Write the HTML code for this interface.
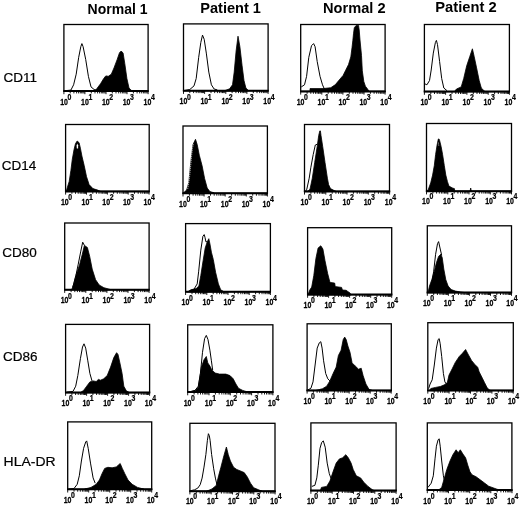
<!DOCTYPE html>
<html><head><meta charset="utf-8"><title>Figure</title>
<style>
html,body{margin:0;padding:0;background:#fff;}
body{width:520px;height:506px;overflow:hidden;position:relative;font-family:"Liberation Sans",sans-serif;color:#000;}
svg{position:absolute;left:0;top:0;}
svg text{font-family:"Liberation Sans",sans-serif;fill:#000;}
.b{fill:none;stroke:#000;stroke-width:1.3;}
.k{fill:#000;stroke:#000;stroke-width:0.8;stroke-linejoin:round;}
.w{fill:none;stroke:#000;stroke-width:1;stroke-linejoin:round;}
.iw{fill:none;stroke:#fff;stroke-width:0.6;stroke-dasharray:1.2 0.8;}
.ax{stroke:#000;stroke-width:2;}
.t{stroke:#000;stroke-width:0.9;}
.lb{font-weight:bold;stroke:#000;stroke-width:0.25;}
</style></head><body>

<svg width="520" height="506" viewBox="0 0 520 506">
<text transform="translate(87.6 13.7) scale(1.000 1)" font-size="14" font-weight="bold">Normal 1</text>
<text transform="translate(200.3 12.9) scale(1.040 1)" font-size="14" font-weight="bold">Patient 1</text>
<text transform="translate(323.0 13.2) scale(1.045 1)" font-size="14" font-weight="bold">Normal 2</text>
<text transform="translate(435.3 11.8) scale(1.052 1)" font-size="14" font-weight="bold">Patient 2</text>
<text transform="translate(3.4 82.0) scale(1.000 1)" font-size="13.5" stroke="#000" stroke-width="0.2">CD11</text>
<text transform="translate(1.7 169.9) scale(1.000 1)" font-size="13.5" stroke="#000" stroke-width="0.2">CD14</text>
<text transform="translate(2.2 256.6) scale(1.000 1)" font-size="13.5" stroke="#000" stroke-width="0.2">CD80</text>
<text transform="translate(3.1 360.8) scale(1.000 1)" font-size="13.5" stroke="#000" stroke-width="0.2">CD86</text>
<text transform="translate(3.6 465.9) scale(1.035 1)" font-size="13.5" stroke="#000" stroke-width="0.2">HLA-DR</text>
<g>
<polygon class="k" points="95.2,91.0 97.3,88.0 100.5,83.8 103.7,78.5 105.8,75.9 108.3,76.3 111.3,74.2 114.0,67.9 117.2,59.4 119.5,52.7 121.2,51.0 123.1,53.1 124.8,63.7 126.9,78.5 129.0,88.0 131.2,90.3 133.3,91.0"/>
<polyline class="w" points="65.2,90.7 70.9,90.1 73.6,84.8 76.2,74.2 78.7,57.3 80.8,46.7 81.9,43.6 83.1,46.7 85.7,59.4 88.4,76.3 91.0,86.9 94.1,89.5 97.3,90.1"/>
<rect class="b" x="63.9" y="24.5" width="84.2" height="66.5"/>
<line class="ax" x1="63.3" y1="91.0" x2="148.7" y2="91.0"/>
<path class="t" d="M63.9 91.0v3.2M70.2 91.0v2.4M73.9 91.0v2.4M76.6 91.0v2.4M78.6 91.0v2.4M80.3 91.0v2.4M81.7 91.0v2.4M82.9 91.0v2.4M84.0 91.0v2.4M84.9 91.0v3.2M91.3 91.0v2.4M95.0 91.0v2.4M97.6 91.0v2.4M99.6 91.0v2.4M101.3 91.0v2.4M102.7 91.0v2.4M103.9 91.0v2.4M105.0 91.0v2.4M106.0 91.0v3.2M112.3 91.0v2.4M116.0 91.0v2.4M118.7 91.0v2.4M120.7 91.0v2.4M122.4 91.0v2.4M123.8 91.0v2.4M125.0 91.0v2.4M126.1 91.0v2.4M127.0 91.0v3.2M133.4 91.0v2.4M137.1 91.0v2.4M139.7 91.0v2.4M141.7 91.0v2.4M143.4 91.0v2.4M144.8 91.0v2.4M146.0 91.0v2.4M147.1 91.0v2.4M148.1 91.0v3.2"/>
<text transform="translate(60.2 104.5) scale(0.75 1)" font-size="9.3" class="lb">10</text>
<text transform="translate(67.6 99.8) scale(0.74 1)" font-size="9.4" class="lb">0</text>
<text transform="translate(81.0 104.5) scale(0.75 1)" font-size="9.3" class="lb">10</text>
<text transform="translate(88.4 99.8) scale(0.74 1)" font-size="9.4" class="lb">1</text>
<text transform="translate(101.9 104.5) scale(0.75 1)" font-size="9.3" class="lb">10</text>
<text transform="translate(109.3 99.8) scale(0.74 1)" font-size="9.4" class="lb">2</text>
<text transform="translate(122.7 104.5) scale(0.75 1)" font-size="9.3" class="lb">10</text>
<text transform="translate(130.1 99.8) scale(0.74 1)" font-size="9.4" class="lb">3</text>
<text transform="translate(143.6 104.5) scale(0.75 1)" font-size="9.3" class="lb">10</text>
<text transform="translate(151.0 99.8) scale(0.74 1)" font-size="9.4" class="lb">4</text>
</g>
<g>
<polygon class="k" points="224.7,90.7 229.6,88.8 232.5,84.8 234.2,72.1 236.1,51.0 238.0,36.2 239.9,46.7 242.1,65.8 244.0,80.6 245.9,88.0 248.6,90.7"/>
<polyline class="w" points="184.5,90.5 189.8,89.5 194.0,85.9 196.2,78.5 198.7,57.3 200.8,42.5 202.5,35.1 204.2,39.3 206.3,53.1 208.8,72.1 211.4,84.8 214.1,89.0 217.3,89.9"/>
<rect class="b" x="183.5" y="23.9" width="84.6" height="66.8"/>
<line class="ax" x1="182.9" y1="90.7" x2="268.7" y2="90.7"/>
<path class="t" d="M183.5 90.7v3.2M189.8 90.7v2.4M193.6 90.7v2.4M196.2 90.7v2.4M198.2 90.7v2.4M199.9 90.7v2.4M201.3 90.7v2.4M202.6 90.7v2.4M203.6 90.7v2.4M204.6 90.7v3.2M211.0 90.7v2.4M214.7 90.7v2.4M217.4 90.7v2.4M219.4 90.7v2.4M221.1 90.7v2.4M222.5 90.7v2.4M223.7 90.7v2.4M224.8 90.7v2.4M225.8 90.7v3.2M232.1 90.7v2.4M235.9 90.7v2.4M238.5 90.7v2.4M240.6 90.7v2.4M242.2 90.7v2.4M243.6 90.7v2.4M244.9 90.7v2.4M246.0 90.7v2.4M246.9 90.7v3.2M253.3 90.7v2.4M257.0 90.7v2.4M259.7 90.7v2.4M261.7 90.7v2.4M263.4 90.7v2.4M264.8 90.7v2.4M266.0 90.7v2.4M267.1 90.7v2.4M268.1 90.7v3.2"/>
<text transform="translate(179.5 104.2) scale(0.75 1)" font-size="9.3" class="lb">10</text>
<text transform="translate(186.9 99.5) scale(0.74 1)" font-size="9.4" class="lb">0</text>
<text transform="translate(200.4 104.2) scale(0.75 1)" font-size="9.3" class="lb">10</text>
<text transform="translate(207.8 99.5) scale(0.74 1)" font-size="9.4" class="lb">1</text>
<text transform="translate(221.4 104.2) scale(0.75 1)" font-size="9.3" class="lb">10</text>
<text transform="translate(228.8 99.5) scale(0.74 1)" font-size="9.4" class="lb">2</text>
<text transform="translate(242.3 104.2) scale(0.75 1)" font-size="9.3" class="lb">10</text>
<text transform="translate(249.7 99.5) scale(0.74 1)" font-size="9.4" class="lb">3</text>
<text transform="translate(263.3 104.2) scale(0.75 1)" font-size="9.3" class="lb">10</text>
<text transform="translate(270.7 99.5) scale(0.74 1)" font-size="9.4" class="lb">4</text>
</g>
<g>
<polygon class="k" points="310.0,91.5 310.0,88.6 323.1,88.6 330.8,87.7 335.4,84.6 339.2,80.0 343.1,75.4 345.4,70.8 348.5,64.6 350.8,56.9 352.0,47.7 352.8,40.8 353.5,33.8 354.3,27.7 356.2,25.4 358.5,25.4 359.2,30.0 360.0,40.0 361.5,55.4 362.3,70.8 363.8,81.5 365.4,86.2 367.7,89.2 369.2,91.5"/>
<polyline class="w" points="301.3,86.9 304.5,84.8 306.6,76.3 308.8,57.3 311.5,45.7 313.6,43.6 315.1,46.7 317.2,61.5 320.0,76.3 322.5,84.8 324.6,89.5"/>
<rect class="b" x="300.7" y="24.5" width="84.4" height="66.8"/>
<line class="ax" x1="300.1" y1="91.4" x2="385.7" y2="91.4"/>
<path class="t" d="M300.7 91.4v3.2M307.1 91.4v2.4M310.8 91.4v2.4M313.4 91.4v2.4M315.5 91.4v2.4M317.1 91.4v2.4M318.5 91.4v2.4M319.8 91.4v2.4M320.8 91.4v2.4M321.8 91.4v3.2M328.2 91.4v2.4M331.9 91.4v2.4M334.5 91.4v2.4M336.6 91.4v2.4M338.2 91.4v2.4M339.6 91.4v2.4M340.9 91.4v2.4M341.9 91.4v2.4M342.9 91.4v3.2M349.3 91.4v2.4M353.0 91.4v2.4M355.6 91.4v2.4M357.7 91.4v2.4M359.3 91.4v2.4M360.7 91.4v2.4M362.0 91.4v2.4M363.0 91.4v2.4M364.0 91.4v3.2M370.4 91.4v2.4M374.1 91.4v2.4M376.7 91.4v2.4M378.8 91.4v2.4M380.4 91.4v2.4M381.8 91.4v2.4M383.1 91.4v2.4M384.1 91.4v2.4M385.1 91.4v3.2"/>
<text transform="translate(296.7 104.9) scale(0.75 1)" font-size="9.3" class="lb">10</text>
<text transform="translate(304.1 100.2) scale(0.74 1)" font-size="9.4" class="lb">0</text>
<text transform="translate(317.6 104.9) scale(0.75 1)" font-size="9.3" class="lb">10</text>
<text transform="translate(325.0 100.2) scale(0.74 1)" font-size="9.4" class="lb">1</text>
<text transform="translate(338.5 104.9) scale(0.75 1)" font-size="9.3" class="lb">10</text>
<text transform="translate(345.9 100.2) scale(0.74 1)" font-size="9.4" class="lb">2</text>
<text transform="translate(359.4 104.9) scale(0.75 1)" font-size="9.3" class="lb">10</text>
<text transform="translate(366.8 100.2) scale(0.74 1)" font-size="9.4" class="lb">3</text>
<text transform="translate(380.3 104.9) scale(0.75 1)" font-size="9.3" class="lb">10</text>
<text transform="translate(387.7 100.2) scale(0.74 1)" font-size="9.4" class="lb">4</text>
</g>
<g>
<polygon class="k" points="454.4,91.6 456.5,89.0 461.2,86.9 463.7,78.5 466.7,65.8 469.9,56.2 472.4,48.8 474.1,56.2 476.6,67.9 479.2,80.6 481.3,88.0 484.0,90.7 485.1,91.6"/>
<polyline class="w" points="424.8,83.8 426.9,84.8 429.5,80.6 431.2,70.0 433.3,53.1 435.4,42.5 436.4,40.4 437.5,44.6 439.6,61.5 441.7,78.5 443.8,88.0 447.0,90.7"/>
<rect class="b" x="424.4" y="24.5" width="85.0" height="67.1"/>
<line class="ax" x1="423.8" y1="91.6" x2="510.0" y2="91.6"/>
<path class="t" d="M424.4 91.6v3.2M430.8 91.6v2.4M434.5 91.6v2.4M437.2 91.6v2.4M439.2 91.6v2.4M440.9 91.6v2.4M442.4 91.6v2.4M443.6 91.6v2.4M444.7 91.6v2.4M445.6 91.6v3.2M452.0 91.6v2.4M455.8 91.6v2.4M458.4 91.6v2.4M460.5 91.6v2.4M462.2 91.6v2.4M463.6 91.6v2.4M464.8 91.6v2.4M465.9 91.6v2.4M466.9 91.6v3.2M473.3 91.6v2.4M477.0 91.6v2.4M479.7 91.6v2.4M481.8 91.6v2.4M483.4 91.6v2.4M484.9 91.6v2.4M486.1 91.6v2.4M487.2 91.6v2.4M488.2 91.6v3.2M494.6 91.6v2.4M498.3 91.6v2.4M501.0 91.6v2.4M503.0 91.6v2.4M504.7 91.6v2.4M506.1 91.6v2.4M507.4 91.6v2.4M508.5 91.6v2.4M509.4 91.6v3.2"/>
<text transform="translate(420.4 105.1) scale(0.75 1)" font-size="9.3" class="lb">10</text>
<text transform="translate(427.8 100.4) scale(0.74 1)" font-size="9.4" class="lb">0</text>
<text transform="translate(441.4 105.1) scale(0.75 1)" font-size="9.3" class="lb">10</text>
<text transform="translate(448.8 100.4) scale(0.74 1)" font-size="9.4" class="lb">1</text>
<text transform="translate(462.5 105.1) scale(0.75 1)" font-size="9.3" class="lb">10</text>
<text transform="translate(469.9 100.4) scale(0.74 1)" font-size="9.4" class="lb">2</text>
<text transform="translate(483.6 105.1) scale(0.75 1)" font-size="9.3" class="lb">10</text>
<text transform="translate(491.0 100.4) scale(0.74 1)" font-size="9.4" class="lb">3</text>
<text transform="translate(504.6 105.1) scale(0.75 1)" font-size="9.3" class="lb">10</text>
<text transform="translate(512.0 100.4) scale(0.74 1)" font-size="9.4" class="lb">4</text>
</g>
<g>
<polygon class="k" points="66.0,191.4 66.8,189.2 69.2,181.4 70.9,170.4 72.3,159.2 74.0,149.7 75.5,143.6 77.2,141.0 79.1,142.7 80.4,148.2 81.9,156.0 84.2,165.6 86.5,176.6 89.1,184.6 92.9,188.6 97.7,190.1 100.5,191.4"/>
<polygon fill="#fff" points="76.6,145.5 77.2,143.6 78.1,145.2 78.1,148.4 76.8,148.4"/>
<rect class="b" x="65.6" y="124.5" width="83.6" height="66.8"/>
<line class="ax" x1="65.0" y1="191.4" x2="149.7" y2="191.4"/>
<path class="t" d="M65.6 191.4v3.2M71.9 191.4v2.4M75.5 191.4v2.4M78.2 191.4v2.4M80.2 191.4v2.4M81.8 191.4v2.4M83.2 191.4v2.4M84.4 191.4v2.4M85.5 191.4v2.4M86.5 191.4v3.2M92.8 191.4v2.4M96.4 191.4v2.4M99.0 191.4v2.4M101.1 191.4v2.4M102.7 191.4v2.4M104.1 191.4v2.4M105.3 191.4v2.4M106.4 191.4v2.4M107.4 191.4v3.2M113.6 191.4v2.4M117.3 191.4v2.4M119.9 191.4v2.4M122.0 191.4v2.4M123.6 191.4v2.4M125.0 191.4v2.4M126.2 191.4v2.4M127.3 191.4v2.4M128.2 191.4v3.2M134.5 191.4v2.4M138.2 191.4v2.4M140.8 191.4v2.4M142.8 191.4v2.4M144.5 191.4v2.4M145.9 191.4v2.4M147.1 191.4v2.4M148.2 191.4v2.4M149.1 191.4v3.2"/>
<text transform="translate(60.9 204.9) scale(0.75 1)" font-size="9.3" class="lb">10</text>
<text transform="translate(68.3 200.2) scale(0.74 1)" font-size="9.4" class="lb">0</text>
<text transform="translate(81.6 204.9) scale(0.75 1)" font-size="9.3" class="lb">10</text>
<text transform="translate(89.0 200.2) scale(0.74 1)" font-size="9.4" class="lb">1</text>
<text transform="translate(102.3 204.9) scale(0.75 1)" font-size="9.3" class="lb">10</text>
<text transform="translate(109.7 200.2) scale(0.74 1)" font-size="9.4" class="lb">2</text>
<text transform="translate(122.9 204.9) scale(0.75 1)" font-size="9.3" class="lb">10</text>
<text transform="translate(130.3 200.2) scale(0.74 1)" font-size="9.4" class="lb">3</text>
<text transform="translate(143.6 204.9) scale(0.75 1)" font-size="9.3" class="lb">10</text>
<text transform="translate(151.0 200.2) scale(0.74 1)" font-size="9.4" class="lb">4</text>
</g>
<g>
<polygon class="k" points="183.5,192.8 186.6,190.1 188.8,182.7 190.9,161.5 193.0,144.6 195.5,139.3 197.2,144.6 199.3,155.2 202.1,165.8 204.6,178.5 207.2,188.0 209.9,191.6 214.1,192.8"/>
<polyline class="iw" points="187.7,189.0 189.4,178.5 190.9,163.7 192.3,148.8 193.6,143.6"/>
<rect class="b" x="183.0" y="126.0" width="84.4" height="67.3"/>
<line class="ax" x1="182.4" y1="193.3" x2="268.0" y2="193.3"/>
<path class="t" d="M183.0 193.3v3.2M189.4 193.3v2.4M193.1 193.3v2.4M195.7 193.3v2.4M197.8 193.3v2.4M199.5 193.3v2.4M200.9 193.3v2.4M202.1 193.3v2.4M203.2 193.3v2.4M204.1 193.3v3.2M210.5 193.3v2.4M214.2 193.3v2.4M216.8 193.3v2.4M218.9 193.3v2.4M220.6 193.3v2.4M222.0 193.3v2.4M223.2 193.3v2.4M224.3 193.3v2.4M225.2 193.3v3.2M231.6 193.3v2.4M235.3 193.3v2.4M237.9 193.3v2.4M240.0 193.3v2.4M241.7 193.3v2.4M243.1 193.3v2.4M244.3 193.3v2.4M245.4 193.3v2.4M246.3 193.3v3.2M252.7 193.3v2.4M256.4 193.3v2.4M259.0 193.3v2.4M261.1 193.3v2.4M262.8 193.3v2.4M264.2 193.3v2.4M265.4 193.3v2.4M266.5 193.3v2.4M267.4 193.3v3.2"/>
<text transform="translate(179.0 206.8) scale(0.75 1)" font-size="9.3" class="lb">10</text>
<text transform="translate(186.4 202.1) scale(0.74 1)" font-size="9.4" class="lb">0</text>
<text transform="translate(199.9 206.8) scale(0.75 1)" font-size="9.3" class="lb">10</text>
<text transform="translate(207.3 202.1) scale(0.74 1)" font-size="9.4" class="lb">1</text>
<text transform="translate(220.8 206.8) scale(0.75 1)" font-size="9.3" class="lb">10</text>
<text transform="translate(228.2 202.1) scale(0.74 1)" font-size="9.4" class="lb">2</text>
<text transform="translate(241.7 206.8) scale(0.75 1)" font-size="9.3" class="lb">10</text>
<text transform="translate(249.1 202.1) scale(0.74 1)" font-size="9.4" class="lb">3</text>
<text transform="translate(262.6 206.8) scale(0.75 1)" font-size="9.3" class="lb">10</text>
<text transform="translate(270.0 202.1) scale(0.74 1)" font-size="9.4" class="lb">4</text>
</g>
<g>
<polygon class="k" points="307.7,191.4 310.0,189.2 312.3,178.2 314.7,162.4 317.2,146.5 318.7,135.5 319.8,130.9 320.4,130.9 321.0,135.5 322.7,146.5 325.0,162.4 327.4,178.2 328.6,184.6 330.5,188.6 334.1,190.5 336.2,191.4"/>
<polyline class="w" points="305.6,191.4 306.8,189.2 309.2,178.2 310.9,167.2 313.2,154.6 315.3,145.0 317.2,144.2"/>
<rect class="b" x="304.5" y="124.5" width="85.0" height="66.8"/>
<line class="ax" x1="303.9" y1="191.4" x2="390.2" y2="191.4"/>
<path class="t" d="M304.5 191.4v3.2M310.9 191.4v2.4M314.7 191.4v2.4M317.3 191.4v2.4M319.4 191.4v2.4M321.1 191.4v2.4M322.5 191.4v2.4M323.7 191.4v2.4M324.8 191.4v2.4M325.8 191.4v3.2M332.2 191.4v2.4M335.9 191.4v2.4M338.6 191.4v2.4M340.6 191.4v2.4M342.3 191.4v2.4M343.7 191.4v2.4M345.0 191.4v2.4M346.1 191.4v2.4M347.0 191.4v3.2M353.4 191.4v2.4M357.2 191.4v2.4M359.8 191.4v2.4M361.9 191.4v2.4M363.6 191.4v2.4M365.0 191.4v2.4M366.2 191.4v2.4M367.3 191.4v2.4M368.3 191.4v3.2M374.7 191.4v2.4M378.4 191.4v2.4M381.1 191.4v2.4M383.2 191.4v2.4M384.8 191.4v2.4M386.3 191.4v2.4M387.5 191.4v2.4M388.6 191.4v2.4M389.6 191.4v3.2"/>
<text transform="translate(300.5 204.9) scale(0.75 1)" font-size="9.3" class="lb">10</text>
<text transform="translate(307.9 200.2) scale(0.74 1)" font-size="9.4" class="lb">0</text>
<text transform="translate(321.6 204.9) scale(0.75 1)" font-size="9.3" class="lb">10</text>
<text transform="translate(329.0 200.2) scale(0.74 1)" font-size="9.4" class="lb">1</text>
<text transform="translate(342.6 204.9) scale(0.75 1)" font-size="9.3" class="lb">10</text>
<text transform="translate(350.0 200.2) scale(0.74 1)" font-size="9.4" class="lb">2</text>
<text transform="translate(363.7 204.9) scale(0.75 1)" font-size="9.3" class="lb">10</text>
<text transform="translate(371.1 200.2) scale(0.74 1)" font-size="9.4" class="lb">3</text>
<text transform="translate(384.8 204.9) scale(0.75 1)" font-size="9.3" class="lb">10</text>
<text transform="translate(392.2 200.2) scale(0.74 1)" font-size="9.4" class="lb">4</text>
</g>
<g>
<polygon class="k" points="427.3,191.2 428.4,189.2 430.7,182.9 432.6,175.1 434.3,165.6 435.6,154.6 437.1,145.0 438.3,139.1 439.0,138.9 439.6,140.4 441.1,146.5 442.6,154.6 444.3,165.6 445.8,175.1 447.4,181.4 448.9,186.1 452.9,188.2 454.4,188.6 454.8,191.2"/>
<polygon class="k" points="470.1,191.2 470.7,188.0 471.3,191.2"/>
<polyline class="iw" points="438.3,142.5 438.8,145.9"/>
<rect class="b" x="426.5" y="123.5" width="85.0" height="67.7"/>
<line class="ax" x1="425.9" y1="191.2" x2="512.1" y2="191.2"/>
<path class="t" d="M426.5 191.2v3.2M432.9 191.2v2.4M436.6 191.2v2.4M439.3 191.2v2.4M441.4 191.2v2.4M443.0 191.2v2.4M444.5 191.2v2.4M445.7 191.2v2.4M446.8 191.2v2.4M447.8 191.2v3.2M454.2 191.2v2.4M457.9 191.2v2.4M460.6 191.2v2.4M462.6 191.2v2.4M464.3 191.2v2.4M465.7 191.2v2.4M467.0 191.2v2.4M468.0 191.2v2.4M469.0 191.2v3.2M475.4 191.2v2.4M479.2 191.2v2.4M481.8 191.2v2.4M483.9 191.2v2.4M485.6 191.2v2.4M487.0 191.2v2.4M488.2 191.2v2.4M489.3 191.2v2.4M490.3 191.2v3.2M496.7 191.2v2.4M500.4 191.2v2.4M503.1 191.2v2.4M505.1 191.2v2.4M506.8 191.2v2.4M508.2 191.2v2.4M509.5 191.2v2.4M510.6 191.2v2.4M511.5 191.2v3.2"/>
<text transform="translate(422.0 204.1) scale(0.75 1)" font-size="9.3" class="lb">10</text>
<text transform="translate(429.4 199.4) scale(0.74 1)" font-size="9.4" class="lb">0</text>
<text transform="translate(443.1 204.1) scale(0.75 1)" font-size="9.3" class="lb">10</text>
<text transform="translate(450.5 199.4) scale(0.74 1)" font-size="9.4" class="lb">1</text>
<text transform="translate(464.1 204.1) scale(0.75 1)" font-size="9.3" class="lb">10</text>
<text transform="translate(471.5 199.4) scale(0.74 1)" font-size="9.4" class="lb">2</text>
<text transform="translate(485.2 204.1) scale(0.75 1)" font-size="9.3" class="lb">10</text>
<text transform="translate(492.6 199.4) scale(0.74 1)" font-size="9.4" class="lb">3</text>
<text transform="translate(506.2 204.1) scale(0.75 1)" font-size="9.3" class="lb">10</text>
<text transform="translate(513.6 199.4) scale(0.74 1)" font-size="9.4" class="lb">4</text>
</g>
<g>
<polygon class="k" points="71.7,289.7 73.8,283.9 75.9,275.5 79.5,264.9 82.3,254.3 84.4,245.4 87.4,247.5 89.7,256.4 92.2,269.1 95.6,279.7 99.2,285.0 103.9,287.7 109.2,289.2 110.8,289.7"/>
<polyline class="w" points="72.8,287.1 75.9,275.5 78.1,264.9 80.8,251.1 82.7,242.2 84.4,245.4"/>
<rect class="b" x="64.7" y="223.0" width="84.4" height="66.7"/>
<line class="ax" x1="64.1" y1="289.7" x2="149.7" y2="289.7"/>
<path class="t" d="M64.7 289.7v3.2M71.1 289.7v2.4M74.8 289.7v2.4M77.4 289.7v2.4M79.5 289.7v2.4M81.2 289.7v2.4M82.6 289.7v2.4M83.8 289.7v2.4M84.9 289.7v2.4M85.8 289.7v3.2M92.2 289.7v2.4M95.9 289.7v2.4M98.5 289.7v2.4M100.6 289.7v2.4M102.3 289.7v2.4M103.7 289.7v2.4M104.9 289.7v2.4M106.0 289.7v2.4M106.9 289.7v3.2M113.3 289.7v2.4M117.0 289.7v2.4M119.6 289.7v2.4M121.7 289.7v2.4M123.4 289.7v2.4M124.8 289.7v2.4M126.0 289.7v2.4M127.1 289.7v2.4M128.0 289.7v3.2M134.4 289.7v2.4M138.1 289.7v2.4M140.7 289.7v2.4M142.8 289.7v2.4M144.5 289.7v2.4M145.9 289.7v2.4M147.1 289.7v2.4M148.2 289.7v2.4M149.1 289.7v3.2"/>
<text transform="translate(60.7 303.2) scale(0.75 1)" font-size="9.3" class="lb">10</text>
<text transform="translate(68.1 298.5) scale(0.74 1)" font-size="9.4" class="lb">0</text>
<text transform="translate(81.6 303.2) scale(0.75 1)" font-size="9.3" class="lb">10</text>
<text transform="translate(89.0 298.5) scale(0.74 1)" font-size="9.4" class="lb">1</text>
<text transform="translate(102.5 303.2) scale(0.75 1)" font-size="9.3" class="lb">10</text>
<text transform="translate(109.9 298.5) scale(0.74 1)" font-size="9.4" class="lb">2</text>
<text transform="translate(123.4 303.2) scale(0.75 1)" font-size="9.3" class="lb">10</text>
<text transform="translate(130.8 298.5) scale(0.74 1)" font-size="9.4" class="lb">3</text>
<text transform="translate(144.3 303.2) scale(0.75 1)" font-size="9.3" class="lb">10</text>
<text transform="translate(151.7 298.5) scale(0.74 1)" font-size="9.4" class="lb">4</text>
</g>
<g>
<polygon class="k" points="187.7,291.8 190.9,289.8 196.2,288.6 198.9,286.0 200.8,275.5 203.1,260.7 205.2,248.0 207.2,242.0 208.8,238.7 209.9,243.7 211.4,252.2 213.3,259.6 215.6,272.3 218.4,283.9 220.7,289.8 224.1,291.8"/>
<polyline class="w" points="187.7,291.8 194.0,289.2 197.2,283.9 198.7,271.2 200.8,250.1 202.9,236.3 204.2,234.6 205.0,237.4 205.9,241.8 207.2,241.6"/>
<rect class="b" x="185.6" y="223.6" width="84.8" height="68.1"/>
<line class="ax" x1="185.0" y1="291.8" x2="271.0" y2="291.8"/>
<path class="t" d="M185.6 291.8v3.2M192.0 291.8v2.4M195.7 291.8v2.4M198.3 291.8v2.4M200.4 291.8v2.4M202.1 291.8v2.4M203.5 291.8v2.4M204.7 291.8v2.4M205.8 291.8v2.4M206.8 291.8v3.2M213.2 291.8v2.4M216.9 291.8v2.4M219.6 291.8v2.4M221.6 291.8v2.4M223.3 291.8v2.4M224.7 291.8v2.4M225.9 291.8v2.4M227.0 291.8v2.4M228.0 291.8v3.2M234.4 291.8v2.4M238.1 291.8v2.4M240.8 291.8v2.4M242.8 291.8v2.4M244.5 291.8v2.4M245.9 291.8v2.4M247.1 291.8v2.4M248.2 291.8v2.4M249.2 291.8v3.2M255.6 291.8v2.4M259.3 291.8v2.4M262.0 291.8v2.4M264.0 291.8v2.4M265.7 291.8v2.4M267.1 291.8v2.4M268.3 291.8v2.4M269.4 291.8v2.4M270.4 291.8v3.2"/>
<text transform="translate(181.6 305.2) scale(0.75 1)" font-size="9.3" class="lb">10</text>
<text transform="translate(189.0 300.6) scale(0.74 1)" font-size="9.4" class="lb">0</text>
<text transform="translate(202.6 305.2) scale(0.75 1)" font-size="9.3" class="lb">10</text>
<text transform="translate(210.0 300.6) scale(0.74 1)" font-size="9.4" class="lb">1</text>
<text transform="translate(223.6 305.2) scale(0.75 1)" font-size="9.3" class="lb">10</text>
<text transform="translate(231.0 300.6) scale(0.74 1)" font-size="9.4" class="lb">2</text>
<text transform="translate(244.6 305.2) scale(0.75 1)" font-size="9.3" class="lb">10</text>
<text transform="translate(252.0 300.6) scale(0.74 1)" font-size="9.4" class="lb">3</text>
<text transform="translate(265.6 305.2) scale(0.75 1)" font-size="9.3" class="lb">10</text>
<text transform="translate(273.0 300.6) scale(0.74 1)" font-size="9.4" class="lb">4</text>
</g>
<g>
<polygon class="k" points="308.1,294.6 309.6,290.3 311.7,287.1 313.8,275.5 315.9,258.5 318.1,248.0 320.8,245.8 322.9,249.0 325.0,260.7 327.6,273.3 329.7,281.4 330.8,282.6 334.7,283.1 335.2,286.6 341.6,287.4 342.4,290.0 346.2,290.3 347.8,291.5 350.1,293.1 350.8,295.1"/>
<rect class="b" x="307.6" y="227.7" width="84.1" height="67.0"/>
<line class="ax" x1="307.0" y1="294.6" x2="392.3" y2="294.6"/>
<path class="t" d="M307.6 294.6v3.2M313.9 294.6v2.4M317.6 294.6v2.4M320.2 294.6v2.4M322.3 294.6v2.4M323.9 294.6v2.4M325.4 294.6v2.4M326.6 294.6v2.4M327.6 294.6v2.4M328.6 294.6v3.2M334.9 294.6v2.4M338.6 294.6v2.4M341.3 294.6v2.4M343.3 294.6v2.4M345.0 294.6v2.4M346.4 294.6v2.4M347.6 294.6v2.4M348.7 294.6v2.4M349.6 294.6v3.2M356.0 294.6v2.4M359.7 294.6v2.4M362.3 294.6v2.4M364.3 294.6v2.4M366.0 294.6v2.4M367.4 294.6v2.4M368.6 294.6v2.4M369.7 294.6v2.4M370.7 294.6v3.2M377.0 294.6v2.4M380.7 294.6v2.4M383.3 294.6v2.4M385.3 294.6v2.4M387.0 294.6v2.4M388.4 294.6v2.4M389.6 294.6v2.4M390.7 294.6v2.4M391.7 294.6v3.2"/>
<text transform="translate(303.6 308.1) scale(0.75 1)" font-size="9.3" class="lb">10</text>
<text transform="translate(311.0 303.4) scale(0.74 1)" font-size="9.4" class="lb">0</text>
<text transform="translate(324.4 308.1) scale(0.75 1)" font-size="9.3" class="lb">10</text>
<text transform="translate(331.8 303.4) scale(0.74 1)" font-size="9.4" class="lb">1</text>
<text transform="translate(345.2 308.1) scale(0.75 1)" font-size="9.3" class="lb">10</text>
<text transform="translate(352.6 303.4) scale(0.74 1)" font-size="9.4" class="lb">2</text>
<text transform="translate(366.1 308.1) scale(0.75 1)" font-size="9.3" class="lb">10</text>
<text transform="translate(373.5 303.4) scale(0.74 1)" font-size="9.4" class="lb">3</text>
<text transform="translate(386.9 308.1) scale(0.75 1)" font-size="9.3" class="lb">10</text>
<text transform="translate(394.3 303.4) scale(0.74 1)" font-size="9.4" class="lb">4</text>
</g>
<g>
<polygon class="k" points="428.0,292.6 429.5,286.0 431.8,279.7 434.3,271.2 436.4,262.8 438.6,256.4 440.7,254.3 442.2,257.5 443.8,269.1 445.8,279.7 448.1,286.0 451.2,289.6 455.5,291.1 460.8,292.0 465.0,292.6"/>
<polyline class="w" points="432.0,281.8 433.7,271.2 435.6,254.3 437.5,243.7 438.6,241.6 440.0,248.0 441.7,255.4"/>
<rect class="b" x="427.3" y="225.8" width="84.2" height="66.8"/>
<line class="ax" x1="426.7" y1="292.6" x2="512.1" y2="292.6"/>
<path class="t" d="M427.3 292.6v3.2M433.7 292.6v2.4M437.4 292.6v2.4M440.0 292.6v2.4M442.1 292.6v2.4M443.7 292.6v2.4M445.1 292.6v2.4M446.4 292.6v2.4M447.4 292.6v2.4M448.4 292.6v3.2M454.7 292.6v2.4M458.4 292.6v2.4M461.1 292.6v2.4M463.1 292.6v2.4M464.8 292.6v2.4M466.2 292.6v2.4M467.4 292.6v2.4M468.5 292.6v2.4M469.4 292.6v3.2M475.8 292.6v2.4M479.5 292.6v2.4M482.1 292.6v2.4M484.2 292.6v2.4M485.8 292.6v2.4M487.2 292.6v2.4M488.5 292.6v2.4M489.5 292.6v2.4M490.5 292.6v3.2M496.8 292.6v2.4M500.5 292.6v2.4M503.2 292.6v2.4M505.2 292.6v2.4M506.9 292.6v2.4M508.3 292.6v2.4M509.5 292.6v2.4M510.6 292.6v2.4M511.5 292.6v3.2"/>
<text transform="translate(422.9 306.1) scale(0.75 1)" font-size="9.3" class="lb">10</text>
<text transform="translate(430.3 301.4) scale(0.74 1)" font-size="9.4" class="lb">0</text>
<text transform="translate(443.8 306.1) scale(0.75 1)" font-size="9.3" class="lb">10</text>
<text transform="translate(451.2 301.4) scale(0.74 1)" font-size="9.4" class="lb">1</text>
<text transform="translate(464.6 306.1) scale(0.75 1)" font-size="9.3" class="lb">10</text>
<text transform="translate(472.0 301.4) scale(0.74 1)" font-size="9.4" class="lb">2</text>
<text transform="translate(485.5 306.1) scale(0.75 1)" font-size="9.3" class="lb">10</text>
<text transform="translate(492.9 301.4) scale(0.74 1)" font-size="9.4" class="lb">3</text>
<text transform="translate(506.3 306.1) scale(0.75 1)" font-size="9.3" class="lb">10</text>
<text transform="translate(513.7 301.4) scale(0.74 1)" font-size="9.4" class="lb">4</text>
</g>
<g>
<polygon class="k" points="80.4,392.6 83.6,390.4 86.7,386.2 89.9,381.9 93.1,380.9 96.2,381.5 98.4,379.4 100.5,380.2 103.7,378.8 107.2,375.6 110.6,367.1 113.8,357.6 116.6,352.7 118.0,354.4 119.9,362.9 122.1,373.5 123.8,386.2 126.3,390.8 129.5,392.6"/>
<polyline class="w" points="66.6,392.1 73.0,391.4 75.7,386.2 77.8,375.6 80.4,358.7 82.5,347.0 84.0,343.8 85.7,348.1 87.8,360.8 89.9,373.5 92.0,380.9"/>
<rect class="b" x="65.6" y="324.4" width="84.0" height="68.2"/>
<line class="ax" x1="65.0" y1="392.6" x2="150.2" y2="392.6"/>
<path class="t" d="M65.6 392.6v3.2M71.9 392.6v2.4M75.6 392.6v2.4M78.2 392.6v2.4M80.3 392.6v2.4M81.9 392.6v2.4M83.3 392.6v2.4M84.5 392.6v2.4M85.6 392.6v2.4M86.6 392.6v3.2M92.9 392.6v2.4M96.6 392.6v2.4M99.2 392.6v2.4M101.2 392.6v2.4M102.9 392.6v2.4M104.3 392.6v2.4M105.5 392.6v2.4M106.6 392.6v2.4M107.6 392.6v3.2M113.9 392.6v2.4M117.6 392.6v2.4M120.2 392.6v2.4M122.2 392.6v2.4M123.9 392.6v2.4M125.3 392.6v2.4M126.5 392.6v2.4M127.6 392.6v2.4M128.6 392.6v3.2M134.9 392.6v2.4M138.6 392.6v2.4M141.2 392.6v2.4M143.2 392.6v2.4M144.9 392.6v2.4M146.3 392.6v2.4M147.5 392.6v2.4M148.6 392.6v2.4M149.6 392.6v3.2"/>
<text transform="translate(61.6 406.1) scale(0.75 1)" font-size="9.3" class="lb">10</text>
<text transform="translate(69.0 401.4) scale(0.74 1)" font-size="9.4" class="lb">0</text>
<text transform="translate(82.4 406.1) scale(0.75 1)" font-size="9.3" class="lb">10</text>
<text transform="translate(89.8 401.4) scale(0.74 1)" font-size="9.4" class="lb">1</text>
<text transform="translate(103.2 406.1) scale(0.75 1)" font-size="9.3" class="lb">10</text>
<text transform="translate(110.6 401.4) scale(0.74 1)" font-size="9.4" class="lb">2</text>
<text transform="translate(124.0 406.1) scale(0.75 1)" font-size="9.3" class="lb">10</text>
<text transform="translate(131.4 401.4) scale(0.74 1)" font-size="9.4" class="lb">3</text>
<text transform="translate(144.8 406.1) scale(0.75 1)" font-size="9.3" class="lb">10</text>
<text transform="translate(152.2 401.4) scale(0.74 1)" font-size="9.4" class="lb">4</text>
</g>
<g>
<polygon class="k" points="188.8,392.1 195.1,390.4 198.3,387.2 199.8,377.7 201.4,367.1 204.0,359.7 206.3,356.5 207.8,362.9 209.9,366.1 212.0,370.3 215.2,373.0 219.4,374.1 225.8,374.1 230.0,375.6 233.2,378.8 235.9,384.0 238.5,388.3 242.7,390.4 248.0,392.1"/>
<polyline class="w" points="188.8,392.1 195.1,390.4 198.3,386.2 200.4,373.5 202.5,352.3 204.6,338.6 206.3,335.4 208.0,339.6 209.9,350.2 211.4,360.8 212.7,370.3"/>
<rect class="b" x="187.7" y="324.8" width="85.2" height="67.3"/>
<line class="ax" x1="187.1" y1="392.1" x2="273.5" y2="392.1"/>
<path class="t" d="M187.7 392.1v3.2M194.1 392.1v2.4M197.9 392.1v2.4M200.5 392.1v2.4M202.6 392.1v2.4M204.3 392.1v2.4M205.7 392.1v2.4M206.9 392.1v2.4M208.0 392.1v2.4M209.0 392.1v3.2M215.4 392.1v2.4M219.2 392.1v2.4M221.8 392.1v2.4M223.9 392.1v2.4M225.6 392.1v2.4M227.0 392.1v2.4M228.3 392.1v2.4M229.3 392.1v2.4M230.3 392.1v3.2M236.7 392.1v2.4M240.5 392.1v2.4M243.1 392.1v2.4M245.2 392.1v2.4M246.9 392.1v2.4M248.3 392.1v2.4M249.6 392.1v2.4M250.7 392.1v2.4M251.6 392.1v3.2M258.0 392.1v2.4M261.8 392.1v2.4M264.5 392.1v2.4M266.5 392.1v2.4M268.2 392.1v2.4M269.6 392.1v2.4M270.9 392.1v2.4M272.0 392.1v2.4M272.9 392.1v3.2"/>
<text transform="translate(183.7 405.6) scale(0.75 1)" font-size="9.3" class="lb">10</text>
<text transform="translate(191.1 400.9) scale(0.74 1)" font-size="9.4" class="lb">0</text>
<text transform="translate(204.8 405.6) scale(0.75 1)" font-size="9.3" class="lb">10</text>
<text transform="translate(212.2 400.9) scale(0.74 1)" font-size="9.4" class="lb">1</text>
<text transform="translate(225.9 405.6) scale(0.75 1)" font-size="9.3" class="lb">10</text>
<text transform="translate(233.3 400.9) scale(0.74 1)" font-size="9.4" class="lb">2</text>
<text transform="translate(247.0 405.6) scale(0.75 1)" font-size="9.3" class="lb">10</text>
<text transform="translate(254.4 400.9) scale(0.74 1)" font-size="9.4" class="lb">3</text>
<text transform="translate(268.1 405.6) scale(0.75 1)" font-size="9.3" class="lb">10</text>
<text transform="translate(275.5 400.9) scale(0.74 1)" font-size="9.4" class="lb">4</text>
</g>
<g>
<polygon class="k" points="316.2,390.4 322.5,388.7 326.7,386.2 329.9,380.9 333.1,373.5 336.2,367.1 338.4,355.5 341.1,350.2 343.2,339.6 344.7,337.1 346.2,339.6 347.9,346.0 350.0,352.3 352.1,362.9 355.3,366.1 358.5,369.2 361.2,368.2 363.1,375.6 365.9,384.0 369.0,389.3 372.2,390.4"/>
<polyline class="w" points="307.7,390.0 310.9,388.3 313.0,381.9 315.1,365.0 317.2,348.1 319.3,342.8 320.8,341.7 322.1,348.1 323.6,360.8 325.7,373.5 327.8,378.8 329.9,380.9"/>
<rect class="b" x="307.1" y="323.8" width="84.2" height="66.6"/>
<line class="ax" x1="306.5" y1="390.4" x2="391.9" y2="390.4"/>
<path class="t" d="M307.1 390.4v3.2M313.4 390.4v2.4M317.1 390.4v2.4M319.7 390.4v2.4M321.8 390.4v2.4M323.4 390.4v2.4M324.8 390.4v2.4M326.1 390.4v2.4M327.1 390.4v2.4M328.1 390.4v3.2M334.4 390.4v2.4M338.1 390.4v2.4M340.8 390.4v2.4M342.8 390.4v2.4M344.5 390.4v2.4M345.9 390.4v2.4M347.1 390.4v2.4M348.2 390.4v2.4M349.2 390.4v3.2M355.5 390.4v2.4M359.2 390.4v2.4M361.8 390.4v2.4M363.9 390.4v2.4M365.5 390.4v2.4M366.9 390.4v2.4M368.2 390.4v2.4M369.2 390.4v2.4M370.2 390.4v3.2M376.5 390.4v2.4M380.2 390.4v2.4M382.9 390.4v2.4M384.9 390.4v2.4M386.6 390.4v2.4M388.0 390.4v2.4M389.2 390.4v2.4M390.3 390.4v2.4M391.2 390.4v3.2"/>
<text transform="translate(303.6 403.9) scale(0.75 1)" font-size="9.3" class="lb">10</text>
<text transform="translate(311.0 399.2) scale(0.74 1)" font-size="9.4" class="lb">0</text>
<text transform="translate(324.4 403.9) scale(0.75 1)" font-size="9.3" class="lb">10</text>
<text transform="translate(331.8 399.2) scale(0.74 1)" font-size="9.4" class="lb">1</text>
<text transform="translate(345.3 403.9) scale(0.75 1)" font-size="9.3" class="lb">10</text>
<text transform="translate(352.7 399.2) scale(0.74 1)" font-size="9.4" class="lb">2</text>
<text transform="translate(366.1 403.9) scale(0.75 1)" font-size="9.3" class="lb">10</text>
<text transform="translate(373.5 399.2) scale(0.74 1)" font-size="9.4" class="lb">3</text>
<text transform="translate(386.9 403.9) scale(0.75 1)" font-size="9.3" class="lb">10</text>
<text transform="translate(394.3 399.2) scale(0.74 1)" font-size="9.4" class="lb">4</text>
</g>
<g>
<polygon class="k" points="430.0,390.6 430.8,388.5 435.6,387.4 440.3,386.5 445.0,384.6 447.4,382.2 449.0,375.1 452.2,368.8 455.3,362.4 459.3,356.4 462.4,353.3 465.6,349.5 468.5,355.0 471.5,360.4 474.6,364.2 477.7,367.3 479.2,371.9 482.3,378.1 484.6,382.7 486.9,387.3 489.2,389.9 490.8,390.5"/>
<polyline class="w" points="428.6,388.7 430.1,384.0 432.2,379.8 434.3,365.0 436.4,348.1 438.1,339.6 439.2,338.6 440.2,343.8 441.7,356.5 443.4,373.5 444.9,381.9 446.4,384.0"/>
<rect class="b" x="427.8" y="322.7" width="85.5" height="67.7"/>
<line class="ax" x1="427.2" y1="390.4" x2="513.8" y2="390.4"/>
<path class="t" d="M427.8 390.4v3.2M434.2 390.4v2.4M438.0 390.4v2.4M440.6 390.4v2.4M442.7 390.4v2.4M444.4 390.4v2.4M445.8 390.4v2.4M447.1 390.4v2.4M448.2 390.4v2.4M449.1 390.4v3.2M455.6 390.4v2.4M459.3 390.4v2.4M462.0 390.4v2.4M464.1 390.4v2.4M465.8 390.4v2.4M467.2 390.4v2.4M468.4 390.4v2.4M469.5 390.4v2.4M470.5 390.4v3.2M476.9 390.4v2.4M480.7 390.4v2.4M483.4 390.4v2.4M485.4 390.4v2.4M487.1 390.4v2.4M488.6 390.4v2.4M489.8 390.4v2.4M490.9 390.4v2.4M491.9 390.4v3.2M498.3 390.4v2.4M502.1 390.4v2.4M504.7 390.4v2.4M506.8 390.4v2.4M508.5 390.4v2.4M509.9 390.4v2.4M511.2 390.4v2.4M512.3 390.4v2.4M513.2 390.4v3.2"/>
<text transform="translate(423.3 403.9) scale(0.75 1)" font-size="9.3" class="lb">10</text>
<text transform="translate(430.7 399.2) scale(0.74 1)" font-size="9.4" class="lb">0</text>
<text transform="translate(444.4 403.9) scale(0.75 1)" font-size="9.3" class="lb">10</text>
<text transform="translate(451.8 399.2) scale(0.74 1)" font-size="9.4" class="lb">1</text>
<text transform="translate(465.6 403.9) scale(0.75 1)" font-size="9.3" class="lb">10</text>
<text transform="translate(473.0 399.2) scale(0.74 1)" font-size="9.4" class="lb">2</text>
<text transform="translate(486.8 403.9) scale(0.75 1)" font-size="9.3" class="lb">10</text>
<text transform="translate(494.2 399.2) scale(0.74 1)" font-size="9.4" class="lb">3</text>
<text transform="translate(507.9 403.9) scale(0.75 1)" font-size="9.3" class="lb">10</text>
<text transform="translate(515.3 399.2) scale(0.74 1)" font-size="9.4" class="lb">4</text>
</g>
<g>
<polygon class="k" points="84.6,489.1 91.0,487.4 96.2,484.3 99.4,480.0 102.0,473.7 104.7,468.4 107.9,467.3 112.1,467.8 116.3,466.9 120.2,463.5 122.3,468.4 124.8,473.7 128.0,480.0 132.2,484.3 137.5,487.4 143.8,489.1"/>
<polyline class="w" points="68.8,489.1 74.0,488.5 77.2,484.3 79.3,475.8 81.4,461.0 83.6,448.3 85.7,442.0 86.7,440.9 88.2,448.3 90.5,463.1 93.1,477.9 95.2,483.2"/>
<rect class="b" x="67.7" y="421.9" width="84.0" height="67.5"/>
<line class="ax" x1="67.1" y1="489.3" x2="152.3" y2="489.3"/>
<path class="t" d="M67.7 489.3v3.2M74.0 489.3v2.4M77.7 489.3v2.4M80.3 489.3v2.4M82.4 489.3v2.4M84.0 489.3v2.4M85.4 489.3v2.4M86.7 489.3v2.4M87.7 489.3v2.4M88.7 489.3v3.2M95.0 489.3v2.4M98.7 489.3v2.4M101.3 489.3v2.4M103.4 489.3v2.4M105.0 489.3v2.4M106.4 489.3v2.4M107.6 489.3v2.4M108.7 489.3v2.4M109.7 489.3v3.2M116.0 489.3v2.4M119.7 489.3v2.4M122.3 489.3v2.4M124.4 489.3v2.4M126.0 489.3v2.4M127.4 489.3v2.4M128.6 489.3v2.4M129.7 489.3v2.4M130.7 489.3v3.2M137.0 489.3v2.4M140.7 489.3v2.4M143.3 489.3v2.4M145.4 489.3v2.4M147.0 489.3v2.4M148.4 489.3v2.4M149.6 489.3v2.4M150.7 489.3v2.4M151.7 489.3v3.2"/>
<text transform="translate(63.7 502.8) scale(0.75 1)" font-size="9.3" class="lb">10</text>
<text transform="translate(71.1 498.1) scale(0.74 1)" font-size="9.4" class="lb">0</text>
<text transform="translate(84.5 502.8) scale(0.75 1)" font-size="9.3" class="lb">10</text>
<text transform="translate(91.9 498.1) scale(0.74 1)" font-size="9.4" class="lb">1</text>
<text transform="translate(105.3 502.8) scale(0.75 1)" font-size="9.3" class="lb">10</text>
<text transform="translate(112.7 498.1) scale(0.74 1)" font-size="9.4" class="lb">2</text>
<text transform="translate(126.1 502.8) scale(0.75 1)" font-size="9.3" class="lb">10</text>
<text transform="translate(133.5 498.1) scale(0.74 1)" font-size="9.4" class="lb">3</text>
<text transform="translate(146.9 502.8) scale(0.75 1)" font-size="9.3" class="lb">10</text>
<text transform="translate(154.3 498.1) scale(0.74 1)" font-size="9.4" class="lb">4</text>
</g>
<g>
<polygon class="k" points="206.7,491.2 212.0,488.9 216.2,485.5 218.6,475.8 220.9,467.3 223.9,455.7 226.4,447.0 228.3,454.7 230.4,461.0 233.6,467.3 236.8,469.5 241.0,471.2 244.2,472.6 247.3,476.9 250.5,483.2 253.7,487.7 259.0,490.0 262.2,491.2"/>
<polyline class="w" points="190.2,490.8 194.5,489.8 197.8,488.1 200.2,484.7 202.1,478.1 204.0,467.1 205.9,454.4 207.4,440.3 208.4,433.7 209.3,435.6 210.1,440.3 211.6,454.4 213.7,468.8 215.4,478.1 216.9,484.5"/>
<rect class="b" x="189.9" y="423.3" width="85.1" height="67.9"/>
<line class="ax" x1="189.3" y1="491.2" x2="275.7" y2="491.2"/>
<path class="t" d="M189.9 491.2v3.2M196.3 491.2v2.4M200.1 491.2v2.4M202.7 491.2v2.4M204.8 491.2v2.4M206.5 491.2v2.4M207.9 491.2v2.4M209.1 491.2v2.4M210.2 491.2v2.4M211.2 491.2v3.2M217.6 491.2v2.4M221.4 491.2v2.4M224.0 491.2v2.4M226.1 491.2v2.4M227.8 491.2v2.4M229.2 491.2v2.4M230.4 491.2v2.4M231.5 491.2v2.4M232.5 491.2v3.2M238.9 491.2v2.4M242.6 491.2v2.4M245.3 491.2v2.4M247.4 491.2v2.4M249.0 491.2v2.4M250.5 491.2v2.4M251.7 491.2v2.4M252.8 491.2v2.4M253.8 491.2v3.2M260.2 491.2v2.4M263.9 491.2v2.4M266.6 491.2v2.4M268.6 491.2v2.4M270.3 491.2v2.4M271.8 491.2v2.4M273.0 491.2v2.4M274.1 491.2v2.4M275.1 491.2v3.2"/>
<text transform="translate(185.9 504.1) scale(0.75 1)" font-size="9.3" class="lb">10</text>
<text transform="translate(193.3 499.4) scale(0.74 1)" font-size="9.4" class="lb">0</text>
<text transform="translate(207.0 504.1) scale(0.75 1)" font-size="9.3" class="lb">10</text>
<text transform="translate(214.4 499.4) scale(0.74 1)" font-size="9.4" class="lb">1</text>
<text transform="translate(228.1 504.1) scale(0.75 1)" font-size="9.3" class="lb">10</text>
<text transform="translate(235.5 499.4) scale(0.74 1)" font-size="9.4" class="lb">2</text>
<text transform="translate(249.2 504.1) scale(0.75 1)" font-size="9.3" class="lb">10</text>
<text transform="translate(256.6 499.4) scale(0.74 1)" font-size="9.4" class="lb">3</text>
<text transform="translate(270.3 504.1) scale(0.75 1)" font-size="9.3" class="lb">10</text>
<text transform="translate(277.7 499.4) scale(0.74 1)" font-size="9.4" class="lb">4</text>
</g>
<g>
<polygon class="k" points="320.4,490.6 321.4,487.4 326.7,486.4 329.9,481.1 333.1,471.6 336.2,463.1 339.4,458.9 342.6,457.8 345.8,454.7 348.3,457.8 351.1,463.1 353.2,469.5 356.3,475.8 360.6,477.9 363.8,482.2 368.0,486.4 372.2,489.6 374.3,490.6"/>
<polyline class="w" points="311.9,486.4 314.9,485.3 316.8,477.9 318.3,465.2 320.0,448.3 321.7,442.4 323.3,440.9 325.2,447.2 327.2,463.1 329.3,473.7 331.0,478.3"/>
<rect class="b" x="310.9" y="422.9" width="85.2" height="67.7"/>
<line class="ax" x1="310.3" y1="490.6" x2="396.7" y2="490.6"/>
<path class="t" d="M310.9 490.6v3.2M317.3 490.6v2.4M321.0 490.6v2.4M323.7 490.6v2.4M325.8 490.6v2.4M327.4 490.6v2.4M328.9 490.6v2.4M330.1 490.6v2.4M331.2 490.6v2.4M332.2 490.6v3.2M338.6 490.6v2.4M342.3 490.6v2.4M345.0 490.6v2.4M347.1 490.6v2.4M348.8 490.6v2.4M350.2 490.6v2.4M351.4 490.6v2.4M352.5 490.6v2.4M353.5 490.6v3.2M359.9 490.6v2.4M363.7 490.6v2.4M366.3 490.6v2.4M368.4 490.6v2.4M370.1 490.6v2.4M371.5 490.6v2.4M372.7 490.6v2.4M373.8 490.6v2.4M374.8 490.6v3.2M381.2 490.6v2.4M385.0 490.6v2.4M387.6 490.6v2.4M389.7 490.6v2.4M391.4 490.6v2.4M392.8 490.6v2.4M394.0 490.6v2.4M395.1 490.6v2.4M396.1 490.6v3.2"/>
<text transform="translate(306.9 504.1) scale(0.75 1)" font-size="9.3" class="lb">10</text>
<text transform="translate(314.3 499.4) scale(0.74 1)" font-size="9.4" class="lb">0</text>
<text transform="translate(328.0 504.1) scale(0.75 1)" font-size="9.3" class="lb">10</text>
<text transform="translate(335.4 499.4) scale(0.74 1)" font-size="9.4" class="lb">1</text>
<text transform="translate(349.1 504.1) scale(0.75 1)" font-size="9.3" class="lb">10</text>
<text transform="translate(356.5 499.4) scale(0.74 1)" font-size="9.4" class="lb">2</text>
<text transform="translate(370.2 504.1) scale(0.75 1)" font-size="9.3" class="lb">10</text>
<text transform="translate(377.6 499.4) scale(0.74 1)" font-size="9.4" class="lb">3</text>
<text transform="translate(391.3 504.1) scale(0.75 1)" font-size="9.3" class="lb">10</text>
<text transform="translate(398.7 499.4) scale(0.74 1)" font-size="9.4" class="lb">4</text>
</g>
<g>
<polygon class="k" points="438.6,490.0 441.7,487.4 443.8,480.0 446.8,469.5 450.0,461.0 452.9,454.7 456.1,449.8 458.2,452.8 460.3,449.8 462.9,454.0 465.6,457.8 467.8,465.2 469.9,471.6 472.0,474.8 476.0,476.7 480.2,479.8 484.5,483.0 488.7,486.2 495.0,488.5 499.3,490.0"/>
<polyline class="w" points="428.0,487.4 431.2,483.2 433.3,475.8 435.0,458.9 436.4,446.2 438.1,439.8 439.2,438.8 440.2,446.2 441.7,461.0 443.4,475.8 444.5,481.1"/>
<rect class="b" x="427.3" y="422.9" width="84.6" height="67.1"/>
<line class="ax" x1="426.7" y1="490.0" x2="512.6" y2="490.0"/>
<path class="t" d="M427.3 490.0v3.2M433.7 490.0v2.4M437.4 490.0v2.4M440.1 490.0v2.4M442.1 490.0v2.4M443.8 490.0v2.4M445.2 490.0v2.4M446.4 490.0v2.4M447.5 490.0v2.4M448.5 490.0v3.2M454.9 490.0v2.4M458.6 490.0v2.4M461.2 490.0v2.4M463.3 490.0v2.4M465.0 490.0v2.4M466.4 490.0v2.4M467.6 490.0v2.4M468.7 490.0v2.4M469.7 490.0v3.2M476.0 490.0v2.4M479.7 490.0v2.4M482.4 490.0v2.4M484.4 490.0v2.4M486.1 490.0v2.4M487.5 490.0v2.4M488.8 490.0v2.4M489.8 490.0v2.4M490.8 490.0v3.2M497.2 490.0v2.4M500.9 490.0v2.4M503.5 490.0v2.4M505.6 490.0v2.4M507.3 490.0v2.4M508.7 490.0v2.4M509.9 490.0v2.4M511.0 490.0v2.4M512.0 490.0v3.2"/>
<text transform="translate(423.3 503.5) scale(0.75 1)" font-size="9.3" class="lb">10</text>
<text transform="translate(430.7 498.8) scale(0.74 1)" font-size="9.4" class="lb">0</text>
<text transform="translate(444.3 503.5) scale(0.75 1)" font-size="9.3" class="lb">10</text>
<text transform="translate(451.7 498.8) scale(0.74 1)" font-size="9.4" class="lb">1</text>
<text transform="translate(465.3 503.5) scale(0.75 1)" font-size="9.3" class="lb">10</text>
<text transform="translate(472.7 498.8) scale(0.74 1)" font-size="9.4" class="lb">2</text>
<text transform="translate(486.2 503.5) scale(0.75 1)" font-size="9.3" class="lb">10</text>
<text transform="translate(493.6 498.8) scale(0.74 1)" font-size="9.4" class="lb">3</text>
<text transform="translate(507.2 503.5) scale(0.75 1)" font-size="9.3" class="lb">10</text>
<text transform="translate(514.6 498.8) scale(0.74 1)" font-size="9.4" class="lb">4</text>
</g>
</svg></body></html>
